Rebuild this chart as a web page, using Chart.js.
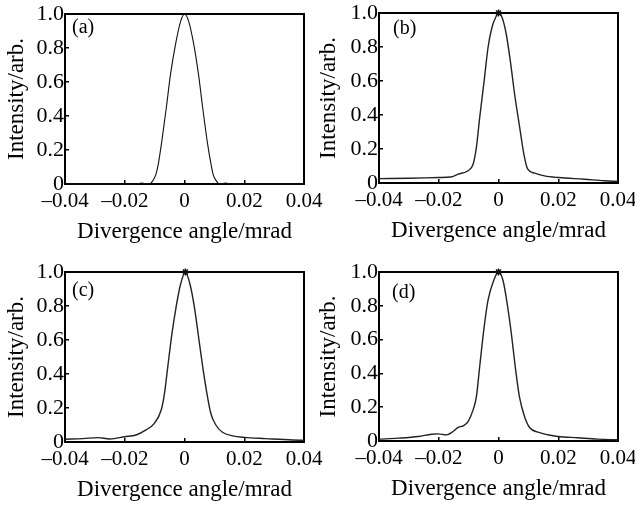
<!DOCTYPE html>
<html><head><meta charset="utf-8">
<script src="https://cdn.jsdelivr.net/npm/chart.js@4.4.1/dist/chart.umd.min.js"></script>
<style>
html,body{margin:0;padding:0;background:#fff;overflow:hidden;}
#wrap{position:relative;width:635px;height:509px;background:#fff;}
canvas{position:absolute;left:0;top:0;}
</style></head><body>
<div id="wrap">
<canvas id="ca" width="635" height="509"></canvas>
<canvas id="cb" width="635" height="509"></canvas>
<canvas id="cc" width="635" height="509"></canvas>
<canvas id="cd" width="635" height="509"></canvas>
</div>
<script>
// ---- text ----
const panelLabels = ['(a)', '(b)', '(c)', '(d)'];
const xTitle = 'Divergence angle/mrad';
const yTitle = 'Intensity/arb.';
const xTickValues = [-0.04, -0.02, 0, 0.02, 0.04];
const xTickLabels = ['\u20130.04', '\u20130.02', '0', '0.02', '0.04'];
const yTickValues = [0, 0.2, 0.4, 0.6, 0.8, 1.0];
const yTickLabels = ['0', '0.2', '0.4', '0.6', '0.8', '1.0'];

// ---- data ----
const angleA = [-0.04, -0.02, -0.0162, -0.0143, -0.0124, -0.0117, -0.0106, -0.0096, -0.0088, -0.0076, -0.0061, -0.0047, -0.0028, -0.0013, 0, 0.0014, 0.0029, 0.0047, 0.0061, 0.0076, 0.0089, 0.0096, 0.0106, 0.0117, 0.0137, 0.0156, 0.02, 0.04];
const intensityA = [0, 0, 0, 0.006, 0, 0, 0.02, 0.055, 0.114, 0.251, 0.447, 0.643, 0.84, 0.957, 1.0, 0.957, 0.84, 0.643, 0.447, 0.251, 0.114, 0.055, 0.02, 0, 0.006, 0, 0, 0];

const angleB = [-0.04, -0.03, -0.02, -0.016, -0.0135, -0.0102, -0.0085, -0.0074, -0.0063, -0.0048, -0.0035, -0.0022, -0.0007, 0, 0.0012, 0.0026, 0.0041, 0.0054, 0.0071, 0.0085, 0.0098, 0.0121, 0.0154, 0.0202, 0.0287, 0.0354, 0.04];
const intensityB = [0.026, 0.028, 0.032, 0.035, 0.052, 0.072, 0.11, 0.209, 0.385, 0.601, 0.797, 0.915, 0.983, 1.0, 0.974, 0.875, 0.699, 0.522, 0.326, 0.169, 0.081, 0.058, 0.042, 0.032, 0.022, 0.013, 0.009];

const angleC = [-0.04, -0.034, -0.029, -0.025, -0.02, -0.0162, -0.0129, -0.0101, -0.0078, -0.0067, -0.0056, -0.0042, -0.0028, -0.0014, 0.0003, 0.0018, 0.0033, 0.0047, 0.0061, 0.0075, 0.0088, 0.0105, 0.0127, 0.0161, 0.02, 0.0272, 0.0361, 0.04];
const intensityC = [0.016, 0.02, 0.026, 0.018, 0.031, 0.041, 0.071, 0.11, 0.188, 0.286, 0.442, 0.638, 0.795, 0.922, 1.0, 0.931, 0.795, 0.619, 0.442, 0.286, 0.169, 0.1, 0.057, 0.036, 0.027, 0.02, 0.012, 0.01];

const angleD = [-0.04, -0.0335, -0.0268, -0.0224, -0.0202, -0.0174, -0.0152, -0.0135, -0.0118, -0.0102, -0.0085, -0.0074, -0.0063, -0.0048, -0.0035, -0.0018, 0, 0.0015, 0.0029, 0.0043, 0.0056, 0.007, 0.0087, 0.0104, 0.0132, 0.0165, 0.0199, 0.0265, 0.0332, 0.04];
const intensityD = [0.011, 0.017, 0.027, 0.04, 0.042, 0.036, 0.056, 0.081, 0.089, 0.115, 0.184, 0.262, 0.44, 0.675, 0.833, 0.941, 1.0, 0.951, 0.813, 0.636, 0.44, 0.262, 0.145, 0.08, 0.052, 0.037, 0.027, 0.019, 0.011, 0.007];

// ---- layout / style ----
const FONT = '"Liberation Serif", "Times New Roman", serif';
const TEXT = '#000';
const CW = 635, CH = 509, XAXIS_H = 62;
const panels = [
  {id: 'ca', left: 65,  right: 304, top: 14,  bottom: 184, titleLeft: 3.4,   dx: 7,  dy: 19, star: false, color: '#111', lw: 1.1},
  {id: 'cb', left: 379, right: 618, top: 13,  bottom: 183, titleLeft: 315.4, dx: 14, dy: 21, star: true,  color: '#222', lw: 1.4},
  {id: 'cc', left: 65,  right: 304, top: 272, bottom: 442, titleLeft: 3.4,   dx: 7,  dy: 24, star: true,  color: '#222', lw: 1.4},
  {id: 'cd', left: 379, right: 618, top: 272, bottom: 441, titleLeft: 315.4, dx: 13, dy: 26, star: true,  color: '#222', lw: 1.4}
];
const series = [[angleA, intensityA], [angleB, intensityB], [angleC, intensityC], [angleD, intensityD]];

function makeChart(p, xs, ys, label) {
  const pts = xs.map((x, i) => ({x: x, y: ys[i]}));
  const frameAxis = {
    type: 'linear', display: true,
    ticks: {display: false},
    grid: {drawOnChartArea: false, drawTicks: false},
    border: {display: true, color: '#000', width: 2}
  };
  return new Chart(document.getElementById(p.id), {
    type: 'line',
    data: {datasets: [{
      data: pts, xAxisID: 'x', yAxisID: 'y',
      borderColor: p.color, borderWidth: p.lw, fill: false,
      cubicInterpolationMode: 'monotone', clip: 4,
      pointRadius: c => (p.star && c.raw && c.raw.y >= 1) ? 3.5 : 0,
      pointStyle: 'star', pointBorderColor: '#111', pointBackgroundColor: '#111',
      pointBorderWidth: 1.5, pointHoverRadius: 0
    }]},
    options: {
      responsive: false, animation: false, devicePixelRatio: 1, events: [],
      layout: {padding: {left: p.titleLeft, right: CW - p.right, top: p.top, bottom: CH - p.bottom - XAXIS_H}},
      plugins: {legend: {display: false}, tooltip: {enabled: false}, title: {display: false}},
      scales: {
        x: {
          type: 'linear', position: 'bottom', min: -0.04, max: 0.04,
          afterBuildTicks: s => { s.ticks = xTickValues.map(v => ({value: v})); },
          ticks: {autoSkip: false, maxRotation: 0, minRotation: 0, padding: 9, color: TEXT,
                  font: {family: FONT, size: 21}, callback: (v, i) => xTickLabels[i]},
          grid: {drawOnChartArea: false, drawTicks: true, tickLength: -4, color: '#000', lineWidth: 1.5},
          border: {display: true, color: '#000', width: 2},
          title: {display: true, text: xTitle, color: TEXT, font: {family: FONT, size: 23}, padding: 0},
          afterFit: s => { s.height = XAXIS_H; s.paddingLeft = 0; s.paddingRight = 0; }
        },
        y: {
          type: 'linear', position: 'left', min: 0, max: 1,
          afterBuildTicks: s => { s.ticks = yTickValues.map(v => ({value: v})); },
          ticks: {autoSkip: false, padding: 5, color: TEXT,
                  font: {family: FONT, size: 22}, callback: (v, i) => yTickLabels[i]},
          grid: {drawOnChartArea: false, drawTicks: true, tickLength: -4, color: '#000', lineWidth: 1.5},
          border: {display: true, color: '#000', width: 2},
          title: {display: true, text: yTitle, color: TEXT, font: {family: FONT, size: 23}, padding: 0},
          afterFit: s => { s.width = p.left - p.titleLeft; s.paddingTop = 0; s.paddingBottom = 0; }
        },
        x2: Object.assign({}, frameAxis, {position: 'top',
          afterFit: s => { s.height = 0; s.paddingLeft = 0; s.paddingRight = 0; }}),
        y2: Object.assign({}, frameAxis, {position: 'right',
          afterFit: s => { s.width = 0; s.paddingTop = 0; s.paddingBottom = 0; }})
      }
    },
    plugins: [{
      id: 'panelLabel',
      afterDraw(chart) {
        const a = chart.chartArea, ctx = chart.ctx;
        ctx.save();
        ctx.font = '20px ' + FONT;
        ctx.fillStyle = TEXT;
        ctx.textBaseline = 'alphabetic';
        ctx.textAlign = 'left';
        ctx.fillText(label, a.left + p.dx, a.top + p.dy);
        ctx.restore();
      }
    }]
  });
}

panels.forEach((p, i) => makeChart(p, series[i][0], series[i][1], panelLabels[i]));
</script>
</body></html>
